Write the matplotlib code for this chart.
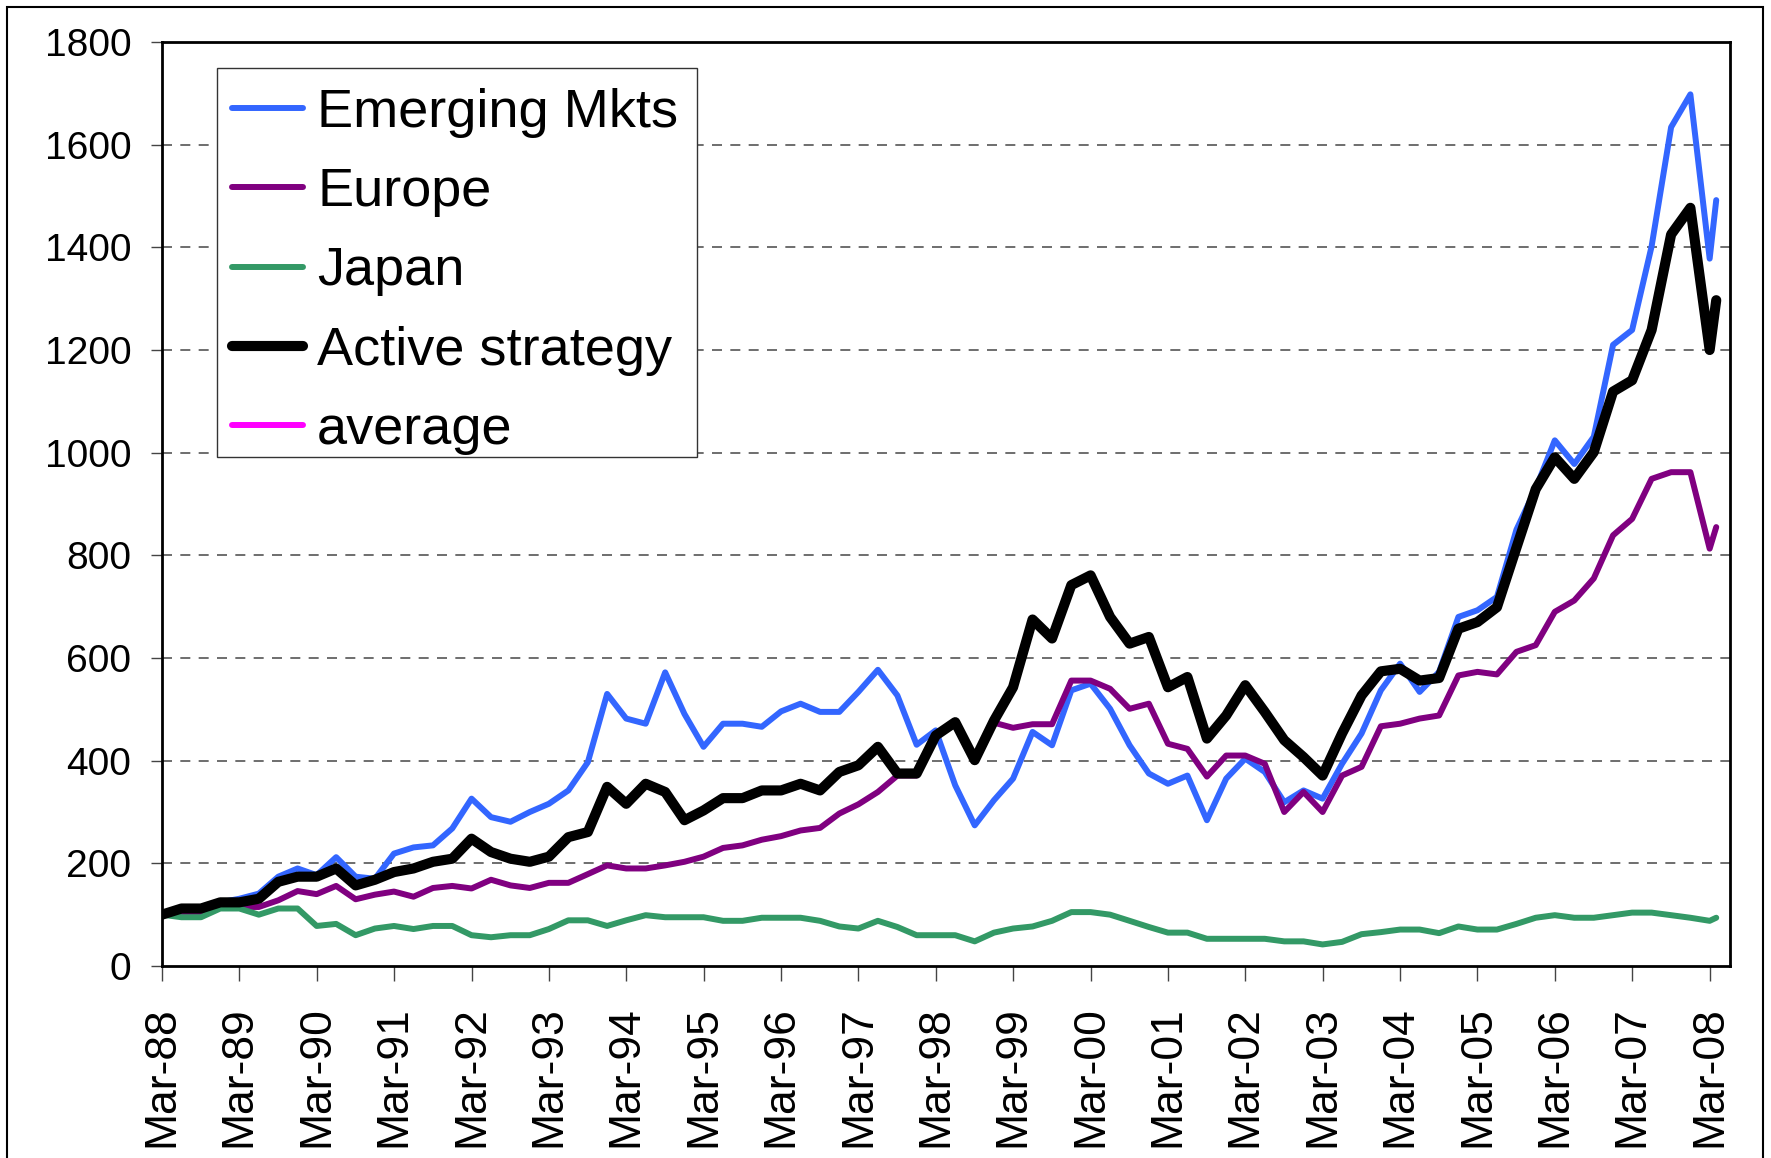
import matplotlib
matplotlib.use("Agg")
import matplotlib.pyplot as plt
import matplotlib.dates as mdates
from matplotlib.patches import Rectangle
import pandas as pd

plt.rcParams['font.family'] = ['Liberation Sans', 'DejaVu Sans']

# quarterly points Mar-88 .. Mar-08, plus one extra point in Apr-08
dates = list(pd.date_range('1988-03-01', periods=81, freq='3MS')) + [pd.Timestamp('2008-04-01')]

emerging = [100, 112, 112, 124, 131, 141, 174, 190, 177, 212,
            174, 170, 219, 231, 235, 268, 326, 290, 281, 300,
            316, 342, 397, 530, 482, 472, 572, 491, 427, 472,
            472, 466, 496, 511, 495, 495, 534, 577, 527, 431,
            459, 352, 274, 323, 365, 456, 430, 537, 550, 501,
            430, 375, 355, 371, 284, 365, 404, 378, 319, 342,
            326, 394, 453, 537, 589, 534, 573, 680, 693, 719,
            850, 930, 1024, 978, 1031, 1210, 1239, 1402, 1634, 1698,
            1378, 1492]

europe = [100, 102, 102, 115, 115, 115, 128, 146, 140, 156,
          130, 139, 145, 135, 152, 156, 151, 168, 157, 152,
          162, 162, 179, 196, 190, 190, 196, 203, 213, 230,
          235, 246, 253, 264, 269, 297, 315, 339, 371, 371,
          449, 475, 401, 474, 464, 471, 471, 556, 556, 540,
          501, 511, 433, 423, 369, 410, 410, 394, 300, 339,
          300, 371, 388, 467, 472, 482, 488, 566, 573, 568,
          612, 625, 690, 712, 755, 839, 871, 949, 962, 962,
          813, 855]

japan = [100, 95, 95, 112, 112, 100, 112, 112, 78, 82,
         60, 73, 78, 72, 78, 78, 60, 56, 60, 60,
         72, 89, 89, 78, 89, 99, 95, 95, 95, 88,
         88, 94, 94, 94, 88, 77, 73, 88, 76, 60,
         60, 60, 48, 65, 73, 77, 88, 105, 105, 100,
         88, 76, 65, 65, 53, 53, 53, 53, 48, 48,
         42, 47, 62, 66, 71, 71, 64, 77, 71, 71,
         82, 94, 99, 94, 94, 99, 104, 104, 99, 94,
         88, 94]

active = [100, 112, 112, 124, 124, 131, 164, 174, 174, 190,
          157, 168, 183, 190, 203, 209, 248, 222, 209, 203,
          213, 251, 261, 349, 316, 355, 339, 284, 303, 327,
          327, 342, 342, 355, 342, 378, 391, 427, 375, 375,
          449, 475, 401, 478, 543, 675, 638, 742, 761, 680,
          628, 641, 543, 563, 443, 488, 547, 495, 440, 407,
          371, 453, 527, 574, 579, 556, 561, 657, 670, 699,
          815, 929, 991, 949, 1001, 1119, 1141, 1239, 1425, 1477,
          1200, 1297]

average = []  # listed in the legend only

fig = plt.figure(figsize=(17.71, 11.58), dpi=100)
ax = fig.add_axes([162/1771, 1 - 966/1158, (1730 - 162)/1771, (966 - 42)/1158])

ax.plot(dates, emerging, color='#3366FF', lw=4.3, label='Emerging Mkts', solid_capstyle='round')
ax.plot(dates, europe, color='#800080', lw=4.3, label='Europe', solid_capstyle='round')
ax.plot(dates, japan, color='#339966', lw=4.3, label='Japan', solid_capstyle='round')
ax.plot(dates, active, color='black', lw=7.3, label='Active strategy', solid_capstyle='round')
ax.plot(average, average, color='#FF00FF', lw=4.3, label='average', solid_capstyle='round')

ax.set_ylim(0, 1800)
ax.set_yticks(range(0, 1801, 200))
ax.set_xlim(pd.Timestamp('1988-03-01'), pd.Timestamp('2008-06-05'))
ax.xaxis.set_major_locator(mdates.YearLocator(1, month=3, day=1))
ax.xaxis.set_major_formatter(mdates.DateFormatter('%b-%y'))

for y in range(200, 1800, 200):
    ax.axhline(y, color='#555555', lw=1.2, ls=(0, (6, 5)), zorder=0)

for s in ax.spines.values():
    s.set_linewidth(2)
    s.set_color('black')

ax.tick_params(axis='y', labelsize=28, length=8, width=1, color='#444444', pad=14)
ax.tick_params(axis='x', labelsize=32, length=11, width=1, color='#444444', pad=18,
               labelrotation=90)

# legend box drawn separately so the entries can sit where the original has them
ax.add_patch(Rectangle(((217 - 162)/1568, (966 - 457)/924), (697 - 217)/1568, (457 - 68)/924,
                       transform=ax.transAxes, facecolor='white', edgecolor='#333333',
                       lw=1, zorder=4, clip_on=False))
leg = ax.legend(loc='upper left', bbox_to_anchor=((232 - 162)/1568, (966 - 88)/924),
                borderaxespad=0, borderpad=0, fontsize=39, frameon=False,
                handlelength=1.31, handletextpad=0.26, labelspacing=0.54)
leg.set_zorder(5)

fig.patches.append(Rectangle((7/1771, -0.05), (1763 - 7)/1771, 1.044, transform=fig.transFigure,
                             fill=False, lw=1.5, ec='black'))

fig.savefig('out.png', dpi=100)
